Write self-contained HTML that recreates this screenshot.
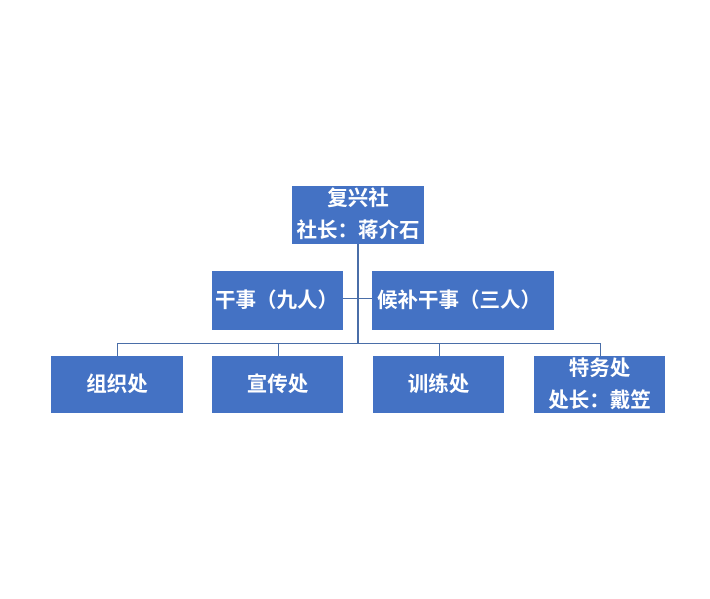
<!DOCTYPE html>
<html><head><meta charset="utf-8"><style>
body{margin:0;width:710px;height:599px;background:#fff;position:relative;overflow:hidden;font-family:"Liberation Sans","Noto Sans CJK SC",sans-serif;}
.b{position:absolute;background:#4472C4;color:#fff;font-weight:bold;font-size:20.5px;display:flex;flex-direction:column;align-items:center;justify-content:center;line-height:32px;white-space:nowrap;}
.l{position:absolute;background:#4a6ea8;}
</style></head><body>
<div class="l" style="left:357px;top:244px;width:2px;height:100px"></div>
<div class="l" style="left:343px;top:298px;width:29px;height:1px"></div>
<div class="l" style="left:117px;top:343px;width:484px;height:1px"></div>
<div class="l" style="left:117px;top:343px;width:1px;height:13px"></div>
<div class="l" style="left:278px;top:343px;width:1px;height:13px"></div>
<div class="l" style="left:439px;top:343px;width:1px;height:13px"></div>
<div class="l" style="left:600px;top:343px;width:1px;height:13px"></div>
<div class="b" style="left:292px;top:186px;width:132px;height:58px"><div>复兴社</div><div>社长：蒋介石</div></div>
<div class="b" style="left:212px;top:271px;width:131px;height:59px;align-items:flex-start;padding-left:3px;box-sizing:border-box">干事（九人）</div>
<div class="b" style="left:372px;top:271px;width:182px;height:59px;align-items:flex-start;padding-left:5px;box-sizing:border-box">候补干事（三人）</div>
<div class="b" style="left:51px;top:356px;width:132px;height:57px">组织处</div>
<div class="b" style="left:212px;top:356px;width:131px;height:57px">宣传处</div>
<div class="b" style="left:373px;top:356px;width:131px;height:57px">训练处</div>
<div class="b" style="left:534px;top:356px;width:131px;height:57px"><div>特务处</div><div>处长：戴笠</div></div>
</body></html>
